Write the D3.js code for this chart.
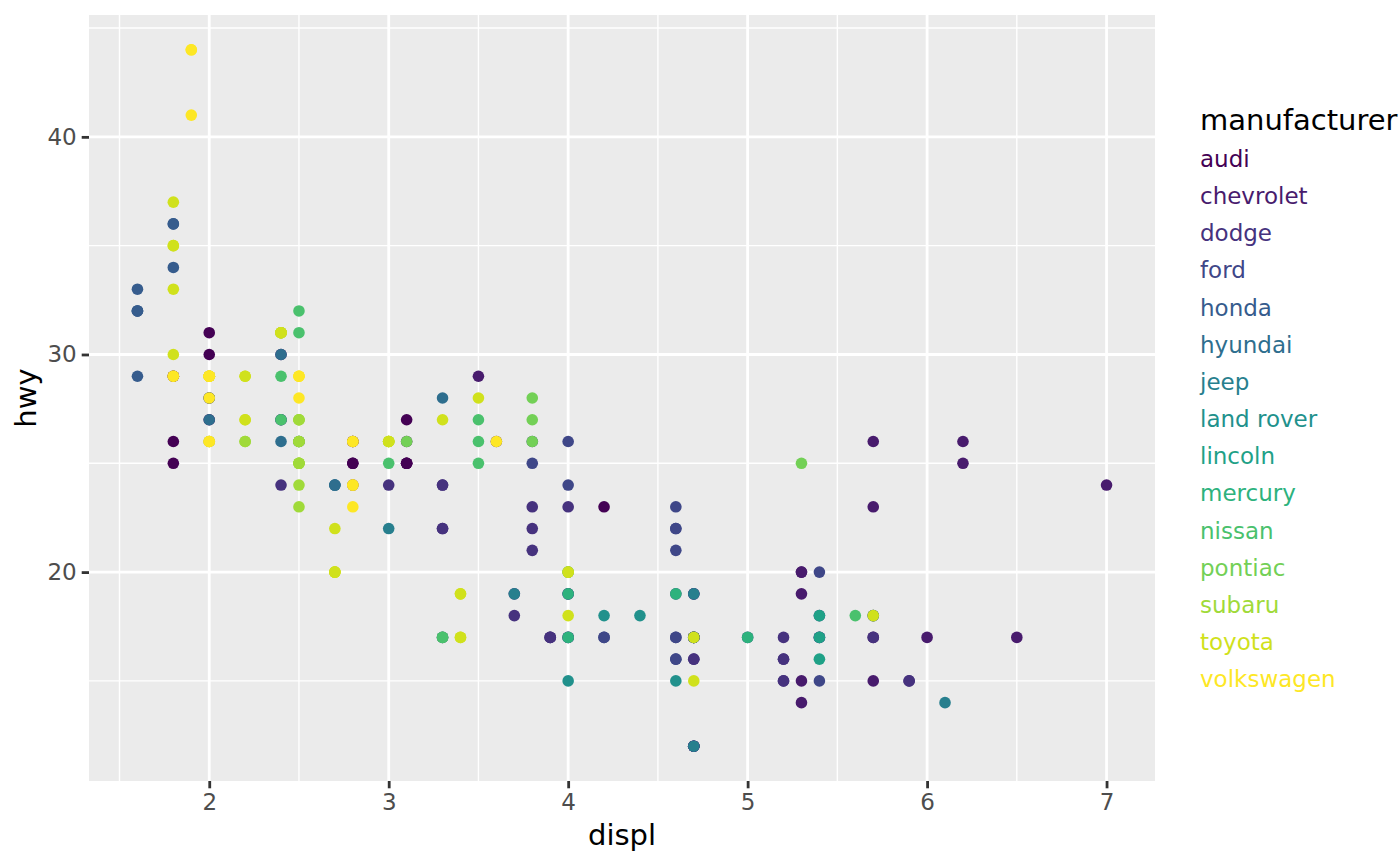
<!DOCTYPE html>
<html><head><meta charset="utf-8">
<script src="https://cdn.jsdelivr.net/npm/d3@7"></script>
<style>body{margin:0;background:#fff}svg{display:block}text{font-family:"DejaVu Sans",sans-serif}</style>
</head><body>
<svg id="chart" width="1400" height="866"></svg>
<script>
const manufacturers = ["audi","chevrolet","dodge","ford","honda","hyundai","jeep","land rover","lincoln","mercury","nissan","pontiac","subaru","toyota","volkswagen"];
const counts = [18,19,37,25,9,14,8,4,3,4,13,5,14,34,27];
const displ = [
1.8,1.8,2.0,2.0,2.8,2.8,3.1,1.8,1.8,2.0,2.0,2.8,2.8,3.1,3.1,2.8,3.1,4.2,
5.3,5.3,5.3,5.7,6.0,5.7,5.7,6.2,6.2,7.0,5.3,5.3,5.7,6.5,2.4,2.4,3.1,3.5,3.6,
2.4,3.0,3.3,3.3,3.3,3.3,3.3,3.8,3.8,3.8,4.0,3.7,3.7,3.9,3.9,4.7,4.7,4.7,5.2,5.2,3.9,4.7,4.7,4.7,5.2,5.7,5.9,4.7,4.7,4.7,4.7,4.7,4.7,5.2,5.2,5.7,5.9,
4.6,5.4,5.4,4.0,4.0,4.0,4.0,4.6,5.0,4.2,4.2,4.6,4.6,4.6,5.4,5.4,3.8,3.8,4.0,4.0,4.6,4.6,4.6,4.6,5.4,
1.6,1.6,1.6,1.6,1.6,1.8,1.8,1.8,2.0,
2.4,2.4,2.4,2.4,2.5,2.5,3.3,2.0,2.0,2.0,2.0,2.7,2.7,2.7,
3.0,3.7,4.0,4.7,4.7,4.7,5.7,6.1,
4.0,4.2,4.4,4.6,
5.4,5.4,5.4,
4.0,4.0,4.6,5.0,
2.4,2.4,2.5,2.5,3.5,3.5,3.0,3.0,3.5,3.3,3.3,4.0,5.6,
3.1,3.8,3.8,3.8,5.3,
2.5,2.5,2.5,2.5,2.5,2.5,2.2,2.2,2.5,2.5,2.5,2.5,2.5,2.5,
2.7,2.7,3.4,3.4,4.0,4.7,2.2,2.2,2.4,2.4,3.0,3.0,3.5,2.2,2.2,2.4,2.4,3.0,3.0,3.3,1.8,1.8,1.8,1.8,1.8,4.7,5.7,2.7,2.7,2.7,3.4,3.4,4.0,4.0,
2.0,2.0,2.0,2.0,2.8,1.9,2.0,2.0,2.0,2.0,2.5,2.5,2.8,2.8,1.9,1.9,2.0,2.0,2.5,2.5,1.8,1.8,2.0,2.0,2.8,2.8,3.6];
const hwy = [
29,29,31,30,26,26,27,26,25,28,27,25,25,25,25,24,25,23,
20,15,20,17,17,26,23,26,25,24,19,14,15,17,27,30,26,29,26,
24,24,22,22,24,24,17,22,21,23,23,19,18,17,17,19,19,12,17,15,17,17,12,17,16,18,15,16,12,17,17,16,12,15,16,17,15,
17,17,18,17,19,17,19,19,17,17,17,16,16,17,15,17,26,25,26,24,21,22,23,22,20,
33,32,32,29,32,34,36,36,29,
26,27,30,31,26,26,28,26,29,28,27,24,24,24,
22,19,20,17,12,19,18,14,
15,18,18,15,
17,16,18,
17,19,19,17,
27,29,31,32,27,26,26,25,25,17,17,20,18,
26,26,27,28,25,
25,24,27,25,26,23,26,26,26,26,25,27,25,27,
20,20,19,17,20,17,29,27,31,31,26,26,28,27,29,31,31,26,26,27,30,33,35,37,35,15,18,20,20,22,17,19,18,20,
29,26,29,29,24,44,29,26,29,29,29,29,23,24,44,41,29,26,28,29,29,29,28,29,26,26,26];
const xTicks = [2,3,4,5,6,7];
const yTicks = [20,30,40];
const xMinor = [1.5,2.5,3.5,4.5,5.5,6.5];
const yMinor = [15,25,35,45];

const manuOf = [];
counts.forEach((c,i)=>{for(let k=0;k<c;k++) manuOf.push(manufacturers[i]);});
const rows = displ.map((d,i)=>({displ:d, hwy:hwy[i], m:manuOf[i]}));

const svg = d3.select("#chart");
const L=89, R=1155, T=15, B=781;
const xr = d3.extent(displ), yr = d3.extent(hwy);
const xp = (xr[1]-xr[0])*0.05, yp=(yr[1]-yr[0])*0.05;
const x = d3.scaleLinear().domain([xr[0]-xp, xr[1]+xp]).range([L,R]);
const y = d3.scaleLinear().domain([yr[0]-yp, yr[1]+yp]).range([B,T]);
const color = d3.scaleOrdinal().domain(manufacturers)
  .range(manufacturers.map((_,i)=>d3.interpolateViridis(i/(manufacturers.length-1))));

svg.append("rect").attr("x",L).attr("y",T).attr("width",R-L).attr("height",B-T).attr("fill","#EBEBEB");
const g = svg.append("g");
g.selectAll(".xmin").data(xMinor).join("line").attr("x1",d=>x(d)).attr("x2",d=>x(d)).attr("y1",T).attr("y2",B).attr("stroke","#fff").attr("stroke-width",1.4);
g.selectAll(".ymin").data(yMinor).join("line").attr("y1",d=>y(d)).attr("y2",d=>y(d)).attr("x1",L).attr("x2",R).attr("stroke","#fff").attr("stroke-width",1.4);
g.selectAll(".xmaj").data(xTicks).join("line").attr("x1",d=>x(d)).attr("x2",d=>x(d)).attr("y1",T).attr("y2",B).attr("stroke","#fff").attr("stroke-width",2.8);
g.selectAll(".ymaj").data(yTicks).join("line").attr("y1",d=>y(d)).attr("y2",d=>y(d)).attr("x1",L).attr("x2",R).attr("stroke","#fff").attr("stroke-width",2.8);

// axes
const xAxis = d3.axisBottom(x).tickValues(xTicks).tickSize(7.3).tickPadding(5).tickFormat(d3.format("d"));
const yAxis = d3.axisLeft(y).tickValues(yTicks).tickSize(7.3).tickPadding(5).tickFormat(d3.format("d"));
const gx = svg.append("g").attr("transform",`translate(0,${B})`).call(xAxis);
const gy = svg.append("g").attr("transform",`translate(${L},0)`).call(yAxis);
[gx,gy].forEach(a=>{
  a.select(".domain").remove();
  a.selectAll(".tick line").attr("stroke","#333333").attr("stroke-width",2.8);
  a.selectAll(".tick text").attr("fill","#4D4D4D").style("font-size","23px").style("font-family","DejaVu Sans");
});

// points
svg.append("g").selectAll("circle").data(rows).join("circle")
  .attr("cx",d=>x(d.displ)).attr("cy",d=>y(d.hwy)).attr("r",5.8)
  .attr("fill",d=>color(d.m));

// titles
svg.append("text").attr("x",(L+R)/2).attr("y",845).attr("text-anchor","middle").style("font-size","29px").attr("fill","#000").text("displ");
svg.append("text").attr("transform",`translate(36,${(T+B)/2}) rotate(-90)`).attr("text-anchor","middle").style("font-size","29px").attr("fill","#000").text("hwy");

// legend
svg.append("text").attr("x",1200).attr("y",130).style("font-size","29px").attr("fill","#000").text("manufacturer");
svg.append("g").selectAll("text").data(manufacturers).join("text")
  .attr("x",1200).attr("y",(d,i)=>167+i*37.15).style("font-size","23px")
  .attr("fill",d=>color(d)).text(d=>d);
</script>
</body></html>
